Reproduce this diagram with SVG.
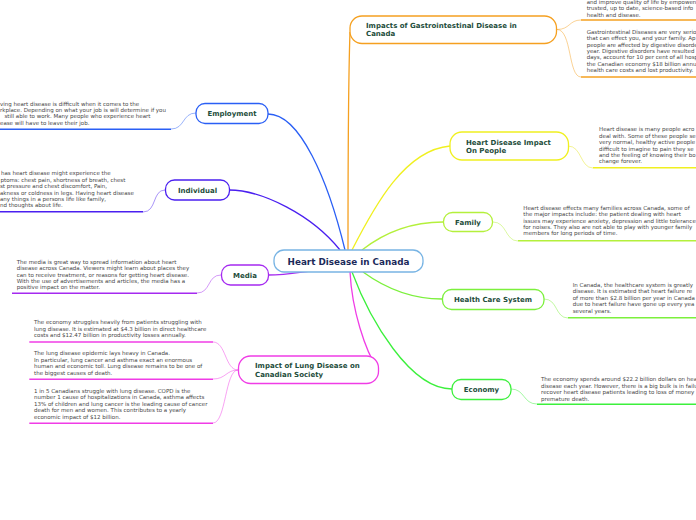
<svg xmlns="http://www.w3.org/2000/svg" width="696" height="520" viewBox="0 0 696 520">
<style>
.t{font-family:"DejaVu Sans",Verdana,sans-serif;font-size:5.5px;fill:#464646}
.n{font-family:"DejaVu Sans",Verdana,sans-serif;font-size:7px;font-weight:bold;fill:#1e4d3b}
.c{font-family:"DejaVu Sans",Verdana,sans-serif;font-size:8.8px;font-weight:bold;fill:#1c2a5a}
.box{fill:#ffffff;stroke-width:1.3}
.main{fill:none;stroke-width:1.3}
.br{fill:none;stroke-width:0.8;opacity:0.6}
.ul{fill:none;stroke-width:1.5}
</style>
<rect width="696" height="520" fill="#ffffff"/>
<g id="connectors">
  <path class="main" stroke="#2a5ff5" d="M268,114 C300,114 328,180 345,250"/>
  <path class="main" stroke="#4a1ff0" d="M229,190 C262,190 312,215 340,250"/>
  <path class="main" stroke="#a52af0" d="M268,275 C285,275 295,273 310,271"/>
  <path class="main" stroke="#f5a020" d="M348,250 C348,150 349,60 350,32"/>
  <path class="main" stroke="#f0f020" d="M352,250 C375,205 405,150 450,146"/>
  <path class="main" stroke="#b4f03c" d="M362,250 C385,232 410,222 443,222"/>
  <path class="main" stroke="#7cf03c" d="M363,272 C385,288 410,299 442,299"/>
  <path class="main" stroke="#3cf03c" d="M352,272 C370,320 410,389 452,389"/>
  <path class="main" stroke="#f03ce6" d="M350,272 C352,310 365,350 378,370"/>
</g>
<g id="center">
  <rect class="box" x="274" y="250" width="149" height="22" rx="10" stroke="#78b4e4" stroke-width="1.5"/>
  <text class="c" x="348.5" y="265.2" text-anchor="middle">Heart Disease in Canada</text>
</g>
<g id="employment">
  <path class="br" stroke="#2a5ff5" d="M171,129 C185,129 182,113 196,113"/>
  <line class="ul" stroke="#2a5ff5" x1="0" y1="129.3" x2="171" y2="129.3"/>
  <text class="t" x="0" y="105.5">ving heart disease is difficult when it comes to the</text>
  <text class="t" x="0" y="111.9">rkplace. Depending on what your job is will determine if you</text>
  <text class="t" x="4.5" y="118.3">still able to work. Many people who experience heart</text>
  <text class="t" x="0" y="124.7">ease will have to leave their job.</text>
  <rect class="box" x="196" y="103.5" width="72" height="20" rx="9" stroke="#2a5ff5"/>
  <text class="n" x="232" y="116" text-anchor="middle">Employment</text>
</g>
<g id="individual">
  <path class="br" stroke="#4a1ff0" d="M143,212 C157,212 152,190 165,190"/>
  <line class="ul" stroke="#4a1ff0" x1="0" y1="211.7" x2="143" y2="211.7"/>
  <text class="t" x="1" y="175.3">has heart disease might experience the</text>
  <text class="t" x="0.5" y="181.7">ptoms: chest pain, shortness of breath, chest</text>
  <text class="t" x="0" y="188.1">st pressure and chest discomfort, Pain,</text>
  <text class="t" x="0" y="194.5">akness or coldness in legs. Having heart disease</text>
  <text class="t" x="0" y="200.9">any things in a persons life like family,</text>
  <text class="t" x="0" y="207.3">nd thoughts about life.</text>
  <rect class="box" x="165.5" y="180" width="64" height="20" rx="9" stroke="#4a1ff0"/>
  <text class="n" x="197.5" y="192.5" text-anchor="middle">Individual</text>
</g>
<g id="media">
  <path class="br" stroke="#a52af0" d="M197,293 C211,293 207,275 221,275"/>
  <line class="ul" stroke="#a52af0" x1="12" y1="293.3" x2="197" y2="293.3"/>
  <text class="t" x="16.7" y="263.7">The media is great way to spread information about heart</text>
  <text class="t" x="16.7" y="270.1">disease across Canada. Viewers might learn about places they</text>
  <text class="t" x="16.7" y="276.5">can to receive treatment, or reasons for getting heart disease.</text>
  <text class="t" x="16.7" y="282.9">With the use of advertisements and articles, the media has a</text>
  <text class="t" x="16.7" y="289.3">positive impact on the matter.</text>
  <rect class="box" x="221.5" y="265" width="47" height="20" rx="9" stroke="#a52af0"/>
  <text class="n" x="245" y="277.5" text-anchor="middle">Media</text>
</g>
<g id="lung">
  <path class="br" stroke="#f03ce6" d="M238,370 C225,370 226,342 213,342"/>
  <path class="br" stroke="#f03ce6" d="M238,370 C226,370 226,379 213,379"/>
  <path class="br" stroke="#f03ce6" d="M238,370 C225,370 226,423 213,423"/>
  <line class="ul" stroke="#f03ce6" x1="29.3" y1="342" x2="213" y2="342"/>
  <line class="ul" stroke="#f03ce6" x1="29.3" y1="379.3" x2="213" y2="379.3"/>
  <line class="ul" stroke="#f03ce6" x1="29.3" y1="423.3" x2="213" y2="423.3"/>
  <text class="t" x="34" y="324.3">The economy struggles heavily from patients struggling with</text>
  <text class="t" x="34" y="330.7">lung disease. It is estimated at $4.3 billion in direct healthcare</text>
  <text class="t" x="34" y="337.1">costs and $12.47 billion in productivity losses annually.</text>
  <text class="t" x="34" y="355.3">The lung disease epidemic lays heavy in Canada.</text>
  <text class="t" x="34" y="361.7">In particular, lung cancer and asthma exact an enormous</text>
  <text class="t" x="34" y="368.1">human and economic toll. Lung disease remains to be one of</text>
  <text class="t" x="34" y="374.5">the biggest causes of death.</text>
  <text class="t" x="34" y="393">1 in 5 Canadians struggle with lung disease. COPD is the</text>
  <text class="t" x="34" y="399.4">number 1 cause of hospitalizations in Canada, asthma affects</text>
  <text class="t" x="34" y="405.8">13% of children and lung cancer is the leading cause of cancer</text>
  <text class="t" x="34" y="412.2">death for men and women. This contributes to a yearly</text>
  <text class="t" x="34" y="418.6">economic impact of $12 billion.</text>
  <rect class="box" x="238.5" y="356" width="140" height="27.5" rx="12" stroke="#f03ce6"/>
  <text class="n" x="255" y="367.5">Impact of Lung Disease on</text>
  <text class="n" x="255" y="376.8">Canadian Society</text>
</g>
<g id="gastro">
  <path class="br" stroke="#f5a020" d="M557,29.5 C570,29.5 569,20 581,20"/>
  <path class="br" stroke="#f5a020" d="M557,29.5 C572,29.5 568,77 581,77"/>
  <line class="ul" stroke="#f5a020" x1="581" y1="20" x2="696" y2="20"/>
  <line class="ul" stroke="#f5a020" x1="581" y1="77" x2="696" y2="77"/>
  <text class="t" x="586.7" y="3.7">and improve quality of life by empowen</text>
  <text class="t" x="586.7" y="10.1">trusted, up to date, science-based info</text>
  <text class="t" x="586.7" y="16.5">health and disease.</text>
  <text class="t" x="586.7" y="33.7">Gastrointestinal Diseases are very serio</text>
  <text class="t" x="586.7" y="40.1">that can effect you, and your family. Ap</text>
  <text class="t" x="586.7" y="46.5">people are affected by digestive disorde</text>
  <text class="t" x="586.7" y="52.9">year. Digestive disorders have resulted</text>
  <text class="t" x="586.7" y="59.3">days, account for 10 per cent of all hosp</text>
  <text class="t" x="586.7" y="65.7">the Canadian economy $18 billion annu</text>
  <text class="t" x="586.7" y="72.1">health care costs and lost productivity.</text>
  <rect class="box" x="350" y="16" width="206.5" height="27.5" rx="12" stroke="#f5a020"/>
  <text class="n" x="366" y="27.5">Impacts of Gastrointestinal Disease in</text>
  <text class="n" x="366" y="36">Canada</text>
</g>
<g id="impact-people">
  <path class="br" stroke="#e6e620" d="M568,146 C582,146 580,168 593,168"/>
  <line class="ul" stroke="#f0f020" x1="593" y1="167.7" x2="696" y2="167.7"/>
  <text class="t" x="599" y="131.3">Heart disease is many people acro</text>
  <text class="t" x="599" y="137.7">deal with. Some of these people se</text>
  <text class="t" x="599" y="144.1">very normal, healthy active people</text>
  <text class="t" x="599" y="150.5">difficult to imagine to pain they se</text>
  <text class="t" x="599" y="156.9">and the feeling of knowing their bo</text>
  <text class="t" x="599" y="163.3">change forever.</text>
  <rect class="box" x="450" y="132" width="118.5" height="28" rx="12" stroke="#f0f020"/>
  <text class="n" x="466" y="144.7">Heart Disease Impact</text>
  <text class="n" x="466" y="153">On People</text>
</g>
<g id="family">
  <path class="br" stroke="#b4f03c" d="M493,222 C507,222 505,241 518,241"/>
  <line class="ul" stroke="#b4f03c" x1="518" y1="240.7" x2="696" y2="240.7"/>
  <text class="t" x="523.3" y="209.7">Heart disease effects many families across Canada, some of</text>
  <text class="t" x="523.3" y="216.1">the major impacts include: the patient dealing with heart</text>
  <text class="t" x="523.3" y="222.5">issues may experience anxiety, depression and little tolerance</text>
  <text class="t" x="523.3" y="228.9">for noises. They also are not able to play with younger family</text>
  <text class="t" x="523.3" y="235.3">members for long periods of time.</text>
  <rect class="box" x="443.5" y="212.5" width="49" height="19" rx="9" stroke="#b4f03c"/>
  <text class="n" x="468" y="224.5" text-anchor="middle">Family</text>
</g>
<g id="health-care">
  <path class="br" stroke="#7cf03c" d="M544,299 C558,299 555,318 568,318"/>
  <line class="ul" stroke="#7cf03c" x1="568" y1="317.7" x2="696" y2="317.7"/>
  <text class="t" x="572.7" y="287">In Canada, the healthcare system is greatly</text>
  <text class="t" x="572.7" y="293.4">disease. It is estimated that heart failure re</text>
  <text class="t" x="572.7" y="299.8">of more than $2.8 billion per year in Canada</text>
  <text class="t" x="572.7" y="306.2">due to heart failure have gone up every yea</text>
  <text class="t" x="572.7" y="312.6">several years.</text>
  <rect class="box" x="442.5" y="289.5" width="101.5" height="20" rx="9" stroke="#7cf03c"/>
  <text class="n" x="493" y="302" text-anchor="middle">Health Care System</text>
</g>
<g id="economy">
  <path class="br" stroke="#3cf03c" d="M511,389 C525,389 523,404 537,404"/>
  <line class="ul" stroke="#3cf03c" x1="537" y1="404.3" x2="696" y2="404.3"/>
  <text class="t" x="541" y="381.3">The economy spends around $22.2 billion dollars on hea</text>
  <text class="t" x="541" y="387.7">disease each year. However, there is a big bulk is in failu</text>
  <text class="t" x="541" y="394.1">recover heart disease patients leading to loss of money</text>
  <text class="t" x="541" y="400.5">premature death.</text>
  <rect class="box" x="452" y="379.5" width="59" height="20" rx="9" stroke="#3cf03c"/>
  <text class="n" x="481.5" y="392" text-anchor="middle">Economy</text>
</g>
</svg>
